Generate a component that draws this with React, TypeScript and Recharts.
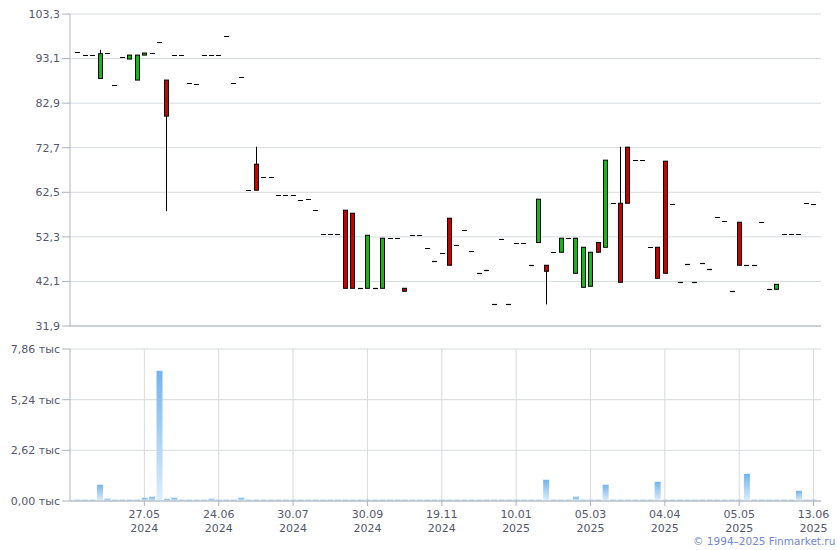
import { ComposedChart, Bar, XAxis, YAxis, CartesianGrid } from 'recharts';

// one entry per trading slot, x = 1..100 (0 and 101 are empty padding)
const opens = [
  94.6, 93.9, 93.9, 88.55, 94.43, 87.03, 93.45, 92.99, 88.18, 93.9,
  94.43, 96.89, 88.18, 93.9, 93.9, 87.49, 87.26, 93.9, 93.9, 93.9,
  98.33, 87.49, 88.87, 62.98, 68.93, 65.96, 65.96, 61.83, 61.83, 61.83,
  60.69, 60.92, 58.4, 52.9, 52.9, 52.9, 58.4, 57.71, 40.53, 40.53,
  40.53, 40.53, 51.99, 51.99, 40.53, 52.67, 52.67, 49.69, 46.71, 48.55,
  56.57, 50.38, 53.88, 49.0, 43.96, 44.65, 36.86, 51.76, 36.86, 51.0,
  51.0, 45.8, 51.0, 45.8, 48.78, 48.78, 51.99, 43.96, 40.76, 40.99,
  51.0, 49.92, 59.99, 59.99, 72.83, 69.85, 69.85, 49.92, 49.92, 69.62,
  59.77, 41.9, 46.02, 41.9, 46.25, 44.88, 56.79, 55.88, 39.85, 55.65,
  45.8, 45.8, 55.65, 40.3, 40.3, 52.9, 52.9, 52.9, 59.99, 59.77,
];
const closes = [
  94.6, 93.9, 93.9, 94.2, 94.43, 87.03, 93.45, 93.9, 93.9, 94.37,
  94.43, 96.89, 79.93, 93.9, 93.9, 87.49, 87.26, 93.9, 93.9, 93.9,
  98.33, 87.49, 88.87, 62.98, 62.98, 65.96, 65.96, 61.83, 61.83, 61.83,
  60.69, 60.92, 58.4, 52.9, 52.9, 52.9, 40.53, 40.53, 40.53, 52.67,
  40.53, 51.99, 51.99, 51.99, 39.85, 52.67, 52.67, 49.69, 46.71, 48.55,
  45.8, 50.38, 53.88, 49.0, 43.96, 44.65, 36.86, 51.76, 36.86, 51.0,
  51.0, 45.8, 60.92, 44.42, 48.78, 51.99, 51.99, 51.99, 49.92, 48.78,
  48.78, 69.85, 59.99, 41.9, 59.99, 69.85, 69.85, 49.92, 42.82, 43.96,
  59.77, 41.9, 46.02, 41.9, 46.25, 44.88, 56.79, 55.88, 39.85, 45.8,
  45.8, 45.8, 55.65, 40.3, 41.44, 52.9, 52.9, 52.9, 59.99, 59.77,
];
const highs = [
  94.6, 93.9, 93.9, 95.1, 94.43, 87.03, 93.45, 93.9, 93.9, 94.37,
  94.43, 96.89, 88.18, 93.9, 93.9, 87.49, 87.26, 93.9, 93.9, 93.9,
  98.33, 87.49, 88.87, 62.98, 72.9, 65.96, 65.96, 61.83, 61.83, 61.83,
  60.69, 60.92, 58.4, 52.9, 52.9, 52.9, 58.4, 57.71, 40.53, 52.67,
  40.53, 51.99, 51.99, 51.99, 40.53, 52.67, 52.67, 49.69, 46.71, 48.55,
  56.57, 50.38, 53.88, 49.0, 43.96, 44.65, 36.86, 51.76, 36.86, 51.0,
  51.0, 45.8, 60.92, 45.8, 48.78, 51.99, 51.99, 51.99, 49.92, 48.78,
  51.0, 69.85, 59.99, 72.9, 72.83, 69.85, 69.85, 49.92, 49.92, 69.62,
  59.77, 41.9, 46.02, 41.9, 46.25, 44.88, 56.79, 55.88, 39.85, 55.65,
  45.8, 45.8, 55.65, 40.3, 41.44, 52.9, 52.9, 52.9, 59.99, 59.77,
];
const lows = [
  94.6, 93.9, 93.9, 88.55, 94.43, 87.03, 93.45, 92.99, 88.18, 93.9,
  94.43, 96.89, 58.17, 93.9, 93.9, 87.49, 87.26, 93.9, 93.9, 93.9,
  98.33, 87.49, 88.87, 62.98, 62.98, 65.96, 65.96, 61.83, 61.83, 61.83,
  60.69, 60.92, 58.4, 52.9, 52.9, 52.9, 40.53, 40.53, 40.53, 40.53,
  40.53, 40.53, 51.99, 51.99, 39.85, 52.67, 52.67, 49.69, 46.71, 48.55,
  45.8, 50.38, 53.88, 49.0, 43.96, 44.65, 36.86, 51.76, 36.86, 51.0,
  51.0, 45.8, 51.0, 36.86, 48.78, 48.78, 51.99, 43.96, 40.76, 40.99,
  48.78, 49.92, 59.99, 41.9, 59.99, 69.85, 69.85, 49.92, 42.82, 43.96,
  59.77, 41.9, 46.02, 41.9, 46.25, 44.88, 56.79, 55.88, 39.85, 45.8,
  45.8, 45.8, 55.65, 40.3, 40.3, 52.9, 52.9, 52.9, 59.99, 59.77,
];
// volume, thousands
const volumes = [
  0.07, 0.07, 0.07, 0.84, 0.12, 0.07, 0.07, 0.07, 0.07, 0.17,
  0.22, 6.74, 0.12, 0.17, 0.07, 0.07, 0.07, 0.07, 0.12, 0.07,
  0.07, 0.07, 0.17, 0.07, 0.07, 0.07, 0.07, 0.07, 0.07, 0.07,
  0.07, 0.07, 0.07, 0.07, 0.07, 0.07, 0.07, 0.07, 0.07, 0.07,
  0.07, 0.07, 0.07, 0.07, 0.07, 0.07, 0.07, 0.07, 0.07, 0.07,
  0.07, 0.07, 0.07, 0.07, 0.07, 0.07, 0.07, 0.07, 0.07, 0.07,
  0.07, 0.07, 0.07, 1.1, 0.07, 0.07, 0.07, 0.22, 0.07, 0.07,
  0.07, 0.84, 0.07, 0.07, 0.07, 0.07, 0.07, 0.07, 1.0, 0.07,
  0.07, 0.07, 0.07, 0.07, 0.07, 0.07, 0.07, 0.07, 0.07, 0.07,
  1.41, 0.07, 0.07, 0.07, 0.07, 0.07, 0.07, 0.53, 0.07, 0.07,
];

const tickPositions = [10, 20, 30, 40, 50, 60, 70, 80, 90, 100];
const tickDates = ['27.05', '24.06', '30.07', '30.09', '19.11', '10.01', '05.03', '04.04', '05.05', '13.06'];
const tickYears = ['2024', '2024', '2024', '2024', '2024', '2025', '2025', '2025', '2025', '2025'];
const priceTicks = [31.9, 42.1, 52.3, 62.5, 72.7, 82.9, 93.1, 103.3];
const volumeTicks = [0, 2.62, 5.24, 7.86];

const data = opens.map((o, i) => ({
  x: i + 1,
  open: o,
  close: closes[i],
  high: highs[i],
  low: lows[i],
  range: [lows[i], highs[i]],
  vol: volumes[i],
}));

const FONT = 'Verdana, "DejaVu Sans", sans-serif';
const GRID = '#d5dadd';
const AXIS = '#aeb2bc';
const LABEL = '#54576c';

const comma = (v: number, d: number) => v.toFixed(d).replace('.', ',');

const Candle = (props: any) => {
  const { x, y, width, height, payload } = props;
  if (x == null || y == null) return null;
  const cx = Math.round(x + width / 2) + 0.5;
  const { open, close, high, low } = payload;
  const span = high - low;
  const toY = (v: number) => (span === 0 ? y : y + ((high - v) / span) * height);
  if (open === close) {
    const yy = Math.round(toY(open)) + 0.5;
    return <line x1={cx - 2.5} x2={cx + 2.5} y1={yy} y2={yy} stroke="#000" strokeWidth={1.2} />;
  }
  const top = toY(Math.max(open, close));
  const bot = toY(Math.min(open, close));
  const fill = close > open ? '#11bb11' : '#cc0000';
  return (
    <g>
      <line x1={cx} x2={cx} y1={toY(high)} y2={toY(low)} stroke="#000" strokeWidth={1} />
      <rect x={cx - 2} y={top} width={4} height={Math.max(bot - top, 1)} fill={fill} stroke="#000" strokeWidth={1} />
    </g>
  );
};

const DateTick = (props: any) => {
  const { x, y, payload } = props;
  const i = tickPositions.indexOf(payload.value);
  return (
    <text x={x} y={y} textAnchor="middle" fill={LABEL} fontSize={11} fontFamily={FONT}>
      <tspan x={x} dy={10}>{tickDates[i]}</tspan>
      <tspan x={x} dy={14}>{tickYears[i]}</tspan>
    </text>
  );
};

export default function App() {
  return (
    <div style={{ position: 'absolute', left: 0, top: 0, width: 840, height: 550, background: '#fff', fontFamily: FONT }}>
      <div style={{ position: 'absolute', left: 0, top: 0 }}>
        <ComposedChart width={840} height={340} data={data} margin={{ top: 14, right: 19, bottom: 0, left: 0 }}>
          <CartesianGrid stroke={GRID} verticalValues={tickPositions} horizontalValues={priceTicks} />
          <XAxis
            dataKey="x"
            type="number"
            domain={[0, 101]}
            ticks={tickPositions}
            tick={false}
            height={14}
            tickSize={5}
            axisLine={{ stroke: AXIS }}
            tickLine={{ stroke: AXIS }}
          />
          <YAxis
            type="number"
            domain={[31.9, 103.3]}
            ticks={priceTicks}
            width={70}
            tickSize={8}
            axisLine={{ stroke: AXIS }}
            tickLine={{ stroke: AXIS }}
            tick={{ fill: LABEL, fontSize: 11, fontFamily: FONT }}
            tickFormatter={(v: number) => comma(v, 1)}
            allowDataOverflow
          />
          <Bar dataKey="range" barSize={5} shape={<Candle />} isAnimationActive={false} />
        </ComposedChart>
      </div>
      <div style={{ position: 'absolute', left: 0, top: 335 }}>
        <ComposedChart width={840} height={215} data={data} margin={{ top: 14, right: 19, bottom: 0, left: 0 }}>
          <defs>
            <linearGradient id="volFill" x1="0" y1="0" x2="0" y2="1">
              <stop offset="0%" stopColor="#72b4ed" />
              <stop offset="100%" stopColor="#deeefb" />
            </linearGradient>
          </defs>
          <CartesianGrid stroke={GRID} verticalValues={tickPositions} horizontalValues={volumeTicks} />
          <XAxis
            dataKey="x"
            type="number"
            domain={[0, 101]}
            ticks={tickPositions}
            height={49}
            tickSize={5}
            axisLine={{ stroke: AXIS }}
            tickLine={{ stroke: AXIS }}
            tick={<DateTick />}
            interval={0}
          />
          <YAxis
            type="number"
            domain={[0, 7.86]}
            ticks={volumeTicks}
            width={70}
            tickSize={8}
            axisLine={{ stroke: AXIS }}
            tickLine={{ stroke: AXIS }}
            tick={{ fill: LABEL, fontSize: 11, fontFamily: FONT }}
            tickFormatter={(v: number) => `${comma(v, 2)} тыс`}
            allowDataOverflow
          />
          <Bar dataKey="vol" barSize={6} fill="url(#volFill)" isAnimationActive={false} />
        </ComposedChart>
      </div>
      <div style={{ position: 'absolute', left: 693, top: 535, fontSize: 10.5, color: '#7086d8', fontFamily: FONT, whiteSpace: 'nowrap' }}>
        © 1994–2025 Finmarket.ru
      </div>
    </div>
  );
}
